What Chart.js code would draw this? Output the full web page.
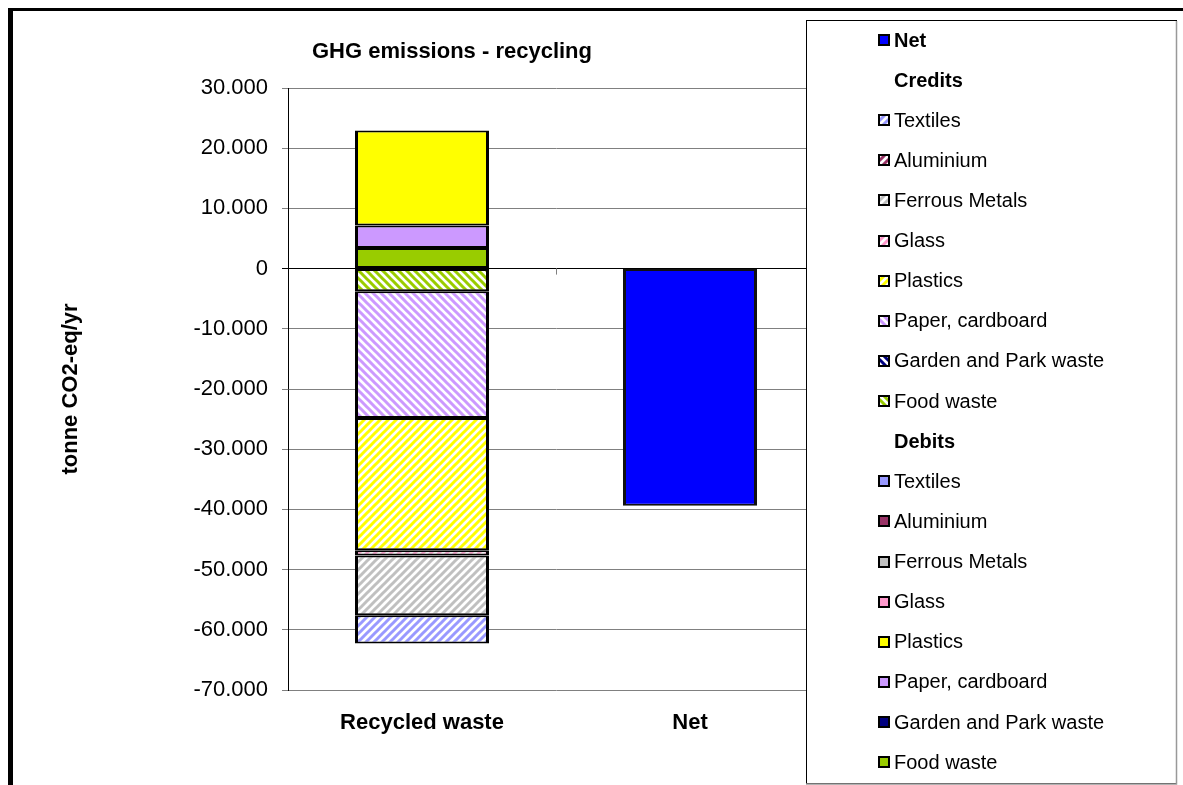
<!DOCTYPE html>
<html><head><meta charset="utf-8">
<script src="https://cdn.jsdelivr.net/npm/chart.js@4/dist/chart.umd.min.js"></script>
<style>html,body{margin:0;padding:0;background:#fff;} canvas{display:block;}</style>
</head><body>
<canvas id="c" width="1183" height="785"></canvas>
<script>
// ---- data ----
const chartTitle = 'GHG emissions - recycling';
const yAxisTitle = 'tonne CO2-eq/yr';
const categories = ['Recycled waste', 'Net'];
const materials = ['Food waste', 'Garden and Park waste', 'Paper, cardboard', 'Plastics', 'Glass', 'Ferrous Metals', 'Aluminium', 'Textiles'];
const debitValues = [3440, 0, 3700, 15780, 0, 0, 0, 0];
const creditValues = [-3770, 0, -21030, -21990, -880, -9920, 0, -4700];
const netValues = [null, -39400];
const netLabel = 'Net';
const creditsHeader = 'Credits';
const debitsHeader = 'Debits';
const yMin = -70000, yMax = 30000, yStep = 10000;

// ---- styles ----
const materialColors = ['#99CC00', '#000080', '#CC99FF', '#FFFF00', '#FF99CC', '#C0C0C0', '#993366', '#9999FF'];
const hatchDir = ['down', 'down', 'down', 'up', 'up', 'up', 'up', 'up'];
const netColor = '#0000FF';
const FONT = '"Liberation Sans", Arial, sans-serif';

const canvas = document.getElementById('c');
const mainCtx = canvas.getContext('2d');

function hatch(color, dir) {
  const s = 8;
  const c = document.createElement('canvas');
  c.width = s; c.height = s;
  const g = c.getContext('2d');
  g.fillStyle = '#fff'; g.fillRect(0, 0, s, s);
  g.strokeStyle = color; g.lineWidth = 3;
  g.beginPath();
  for (let x = -s; x <= s; x += s) {
    if (dir === 'up') { g.moveTo(x - 2, s + 2); g.lineTo(x + s + 2, -2); }
    else { g.moveTo(x - 2, -2); g.lineTo(x + s + 2, s + 2); }
  }
  g.stroke();
  return mainCtx.createPattern(c, 'repeat');
}

function fmt(v) {
  if (v === 0) return '0';
  const a = Math.abs(v).toString().replace(/\B(?=(\d{3})+(?!\d))/g, '.');
  return (v < 0 ? '-' : '') + a;
}

const barBorder = { left: 3, right: 3, top: 2, bottom: 2 };
const datasets = [];
materials.forEach((m, i) => datasets.push({
  label: m, kind: 'debit', data: [debitValues[i], null], stack: 's',
  backgroundColor: materialColors[i], borderColor: '#000', borderWidth: barBorder, borderSkipped: false
}));
const creditPatterns = materials.map((m, i) => hatch(materialColors[i], hatchDir[i]));
materials.forEach((m, i) => datasets.push({
  label: m, kind: 'credit', data: [creditValues[i], null], stack: 's',
  backgroundColor: creditPatterns[i], borderColor: '#000', borderWidth: barBorder, borderSkipped: false
}));
datasets.push({
  label: netLabel, kind: 'net', data: netValues, stack: 's',
  backgroundColor: netColor, borderColor: '#111', borderWidth: barBorder, borderSkipped: false
});

const decorPlugin = {
  id: 'decor',
  beforeDraw(chart) {
    const ctx = chart.ctx;
    ctx.save();
    ctx.fillStyle = '#fff';
    ctx.fillRect(0, 0, chart.width, chart.height);
    ctx.restore();
  },
  afterDatasetsDraw(chart) {
    const ctx = chart.ctx;
    const x = chart.scales.x, y = chart.scales.y;
    const y0 = y.getPixelForValue(0);
    const bx = Math.round((x.getPixelForValue(0) + x.getPixelForValue(1)) / 2) + 0.5;
    ctx.save();
    ctx.strokeStyle = '#808080'; ctx.lineWidth = 1;
    ctx.beginPath(); ctx.moveTo(bx, y0); ctx.lineTo(bx, y0 + 6); ctx.stroke();
    ctx.restore();
  },
  afterDraw(chart) {
    const ctx = chart.ctx;
    ctx.save();
    // outer frame
    ctx.fillStyle = '#000';
    ctx.fillRect(8, 8, chart.width - 8, 3);
    ctx.fillRect(8, 8, 5, chart.height - 8);
    // title
    ctx.fillStyle = '#000';
    ctx.font = 'bold 22px ' + FONT;
    ctx.textAlign = 'center'; ctx.textBaseline = 'middle';
    ctx.fillText(chartTitle, 452, 52);
    // legend box
    const lx = 806, ly = 20, lw = 370, lh = 763;
    ctx.fillStyle = '#fff';
    ctx.fillRect(lx, ly, lw, lh);
    ctx.strokeStyle = '#000'; ctx.lineWidth = 1;
    ctx.strokeRect(lx + 0.5, ly + 0.5, lw, lh);
    ctx.strokeStyle = '#999'; ctx.lineWidth = 1.5;
    ctx.beginPath();
    ctx.moveTo(lx + lw + 0.5, ly + 1); ctx.lineTo(lx + lw + 0.5, ly + lh + 1);
    ctx.lineTo(lx, ly + lh + 1);
    ctx.stroke();
    // legend entries
    const ds = chart.data.datasets;
    const entries = [];
    ds.filter(d => d.kind === 'net').forEach(d => entries.push({ label: d.label, fill: d.backgroundColor, bold: true }));
    entries.push({ label: creditsHeader, header: true });
    ds.filter(d => d.kind === 'credit').slice().reverse().forEach(d => entries.push({ label: d.label, fill: d.backgroundColor }));
    entries.push({ label: debitsHeader, header: true });
    ds.filter(d => d.kind === 'debit').slice().reverse().forEach(d => entries.push({ label: d.label, fill: d.backgroundColor }));
    const step = 40.12;
    entries.forEach((e, i) => {
      const cy = 40 + i * step;
      if (!e.header) {
        ctx.fillStyle = e.fill;
        ctx.fillRect(879, Math.round(cy) - 5, 10, 10);
        ctx.strokeStyle = '#000'; ctx.lineWidth = 2;
        ctx.strokeRect(879, Math.round(cy) - 5, 10, 10);
      }
      ctx.fillStyle = '#000';
      ctx.font = (e.header || e.bold ? 'bold ' : '') + '20px ' + FONT;
      ctx.textAlign = 'left'; ctx.textBaseline = 'middle';
      ctx.fillText(e.label, 894, cy + 1);
    });
    ctx.restore();
  }
};

new Chart(canvas, {
  type: 'bar',
  data: { labels: categories, datasets },
  plugins: [decorPlugin],
  options: {
    responsive: false,
    devicePixelRatio: 1,
    animation: false,
    layout: { padding: { left: 0, top: 88, right: 359, bottom: 0 } },
    plugins: { legend: { display: false }, title: { display: false }, tooltip: { enabled: false } },
    datasets: { bar: { barPercentage: 1, categoryPercentage: 0.5 } },
    scales: {
      x: {
        stacked: true,
        grid: { display: false, drawTicks: false },
        border: { display: false },
        ticks: { color: '#000', font: { family: FONT, size: 22, weight: 'bold' }, padding: 20 },
        afterFit: s => { s.height = 95; }
      },
      y: {
        stacked: true,
        min: yMin, max: yMax,
        ticks: { stepSize: yStep, color: '#000', font: { family: FONT, size: 22 }, padding: 14, callback: v => fmt(v) },
        grid: {
          color: c => (c.tick && c.tick.value === 0) ? '#000' : '#808080',
          lineWidth: 1, tickLength: 6, drawTicks: true
        },
        border: { color: '#000', width: 1 },
        title: { display: true, text: yAxisTitle, color: '#000', font: { family: FONT, size: 22, weight: 'bold' }, padding: { top: 58, bottom: 0 } },
        afterFit: s => { s.width = 288; }
      }
    }
  }
});
</script>
</body></html>
